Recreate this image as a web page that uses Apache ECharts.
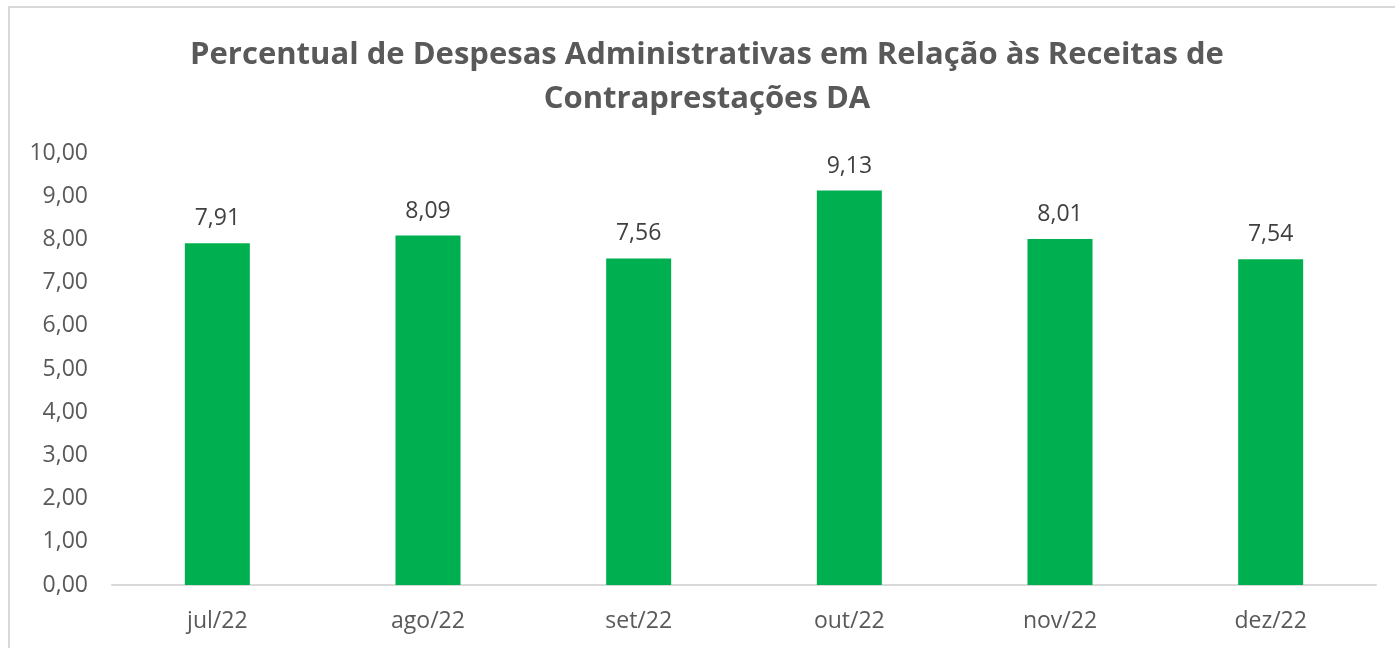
<!DOCTYPE html>
<html>
<head>
<meta charset="utf-8">
<script src="https://cdn.jsdelivr.net/npm/echarts@6/dist/echarts.min.js"></script>
<style>
html, body { margin: 0; padding: 0; background: #fff; }
#chart { width: 1395px; height: 648px; }
</style>
</head>
<body>
<div id="chart"></div>
<script>
// dados do gráfico
const months = ['jul/22', 'ago/22', 'set/22', 'out/22', 'nov/22', 'dez/22'];
const percentages = [7.91, 8.09, 7.56, 9.13, 8.01, 7.54];
const titleLines = ['Percentual de Despesas Administrativas em Relação às Receitas de', 'Contraprestações DA'];

const fmt = v => v.toFixed(2).replace('.', ',');

const chart = echarts.init(document.getElementById('chart'));
chart.setOption({
    animation: false,
    textStyle: { fontFamily: 'Open Sans' },
    title: {
        text: titleLines.join('\n'),
        left: 702,
        textAlign: 'center',
        top: 28,
        textStyle: { fontSize: 31, fontWeight: 'bold', color: '#595959', lineHeight: 44 },
    },
    graphic: [
        {
            type: 'rect',
            shape: { x: 9, y: 7, width: 1420, height: 700 },
            style: { fill: 'none', stroke: '#d9d9d9', lineWidth: 2 },
            silent: true,
        },
    ],
    grid: { left: 112, right: 19, top: 153, bottom: 63 },
    xAxis: {
        type: 'category',
        data: months,
        axisLine: { lineStyle: { color: '#d9d9d9', width: 2 } },
        axisTick: { show: false },
        axisLabel: { color: '#595959', fontSize: 23, margin: 25 },
    },
    yAxis: {
        type: 'value',
        min: 0,
        max: 10,
        interval: 1,
        splitLine: { show: false },
        axisLabel: { color: '#595959', fontSize: 23, margin: 24, formatter: fmt },
    },
    series: [
        {
            type: 'bar',
            data: percentages,
            barWidth: 65,
            itemStyle: { color: '#00B050' },
            label: {
                show: true,
                position: 'top',
                distance: 13,
                color: '#404040',
                fontSize: 23,
                formatter: p => fmt(p.value),
            },
        },
    ],
});
</script>
</body>
</html>
